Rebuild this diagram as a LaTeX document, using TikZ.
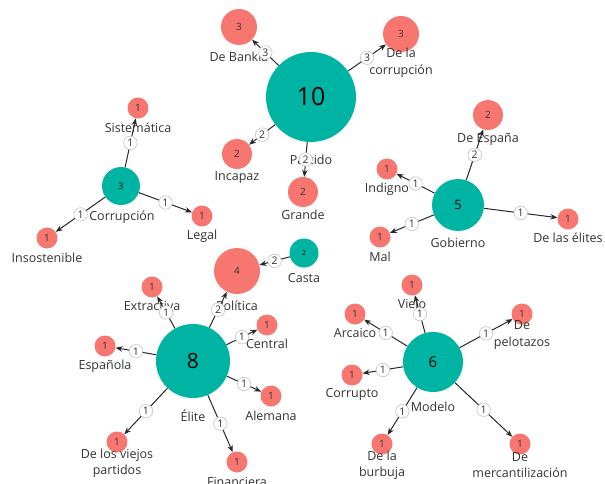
\documentclass[tikz,border=0pt]{standalone}
\usepackage{fontspec}
\setmainfont{Open Sans}
\usetikzlibrary{arrows.meta}

\definecolor{hubcol}{RGB}{0,180,164}
\definecolor{leafcol}{RGB}{248,118,112}
\definecolor{txtcol}{RGB}{51,51,51}
\definecolor{linecol}{RGB}{40,40,40}

\begin{document}
\begin{tikzpicture}[
    x=1pt, y=-1pt,
    hub/.style={circle, fill=hubcol, inner sep=0pt, text=black},
    leaf/.style={circle, fill=leafcol, inner sep=0pt, minimum size=21pt, text=txtcol, font=\fontsize{10}{12}\selectfont},
    lbl/.style={inner sep=0pt, align=center, text=txtcol, font=\fontsize{12.5}{16.5}\selectfont},
    wt/.style={circle, draw=gray!55, line width=0.5pt, fill=white, inner sep=0pt, minimum size=13.5pt, text=txtcol, font=\fontsize{10.5}{10.5}\selectfont},
    link/.style={draw=linecol, line width=1pt, -{Stealth[length=7pt,width=5.5pt]}}
]
\fill[white] (0,0) rectangle (605,484);
\useasboundingbox (0,0) rectangle (605,484);

% Hubs
\node[hub, minimum size=90pt, font=\fontsize{25}{25}\selectfont] (partido) at (311,97) {10};
\node[hub, minimum size=38pt, font=\fontsize{9}{9}\selectfont] (corrupcion) at (121,186) {3};
\node[hub, minimum size=52pt, font=\fontsize{13}{13}\selectfont] (gobierno) at (458,205) {5};
\node[hub, minimum size=29pt, font=\fontsize{7}{7}\selectfont] (casta) at (304,253) {2};
\node[hub, minimum size=74pt, font=\fontsize{21}{21}\selectfont] (elite) at (193,361) {8};
\node[hub, minimum size=60pt, font=\fontsize{15}{15}\selectfont] (modelo) at (433,362) {6};

% Leaves
\node[leaf, minimum size=36pt] (bankia) at (239,27) {3};
\node[leaf, minimum size=36pt] (delacorr) at (401,34) {3};
\node[leaf, minimum size=30pt] (incapaz) at (237,154) {2};
\node[leaf, minimum size=30pt] (grande) at (303,192) {2};
\node[leaf] (sistematica) at (138,108) {1};
\node[leaf] (legal) at (202,216) {1};
\node[leaf] (insostenible) at (47,238) {1};
\node[leaf, minimum size=30pt] (espana) at (488,115) {2};
\node[leaf] (indigno) at (387,169) {1};
\node[leaf] (mal) at (380,237) {1};
\node[leaf] (elites) at (568,219) {1};
\node[leaf, minimum size=46pt] (politica) at (237,271) {4};
\node[leaf] (extractiva) at (152,287) {1};
\node[leaf] (central) at (267,325) {1};
\node[leaf] (espanola) at (105,346) {1};
\node[leaf] (alemana) at (271,396) {1};
\node[leaf] (viejos) at (117,442) {1};
\node[leaf] (financiera) at (237,462) {1};
\node[leaf] (viejo) at (412,285) {1};
\node[leaf] (arcaico) at (355,314) {1};
\node[leaf] (pelotazos) at (522,314) {1};
\node[leaf] (corrupto) at (352,375) {1};
\node[leaf] (burbuja) at (382,444) {1};
\node[leaf] (mercant) at (520,444) {1};

% Labels
\node[lbl] (tpartido) at (311,160) {Partido};
\node[lbl] (tcorrupcion) at (122,217) {Corrupción};
\node[lbl] (tgobierno) at (458,243) {Gobierno};
\node[lbl] (tcasta) at (304,278) {Casta};
\node[lbl] (telite) at (193,416) {Élite};
\node[lbl] (tmodelo) at (433,407) {Modelo};
\node[lbl] (tbankia) at (239,57) {De Bankia};
\node[lbl] (tdelacorr) at (401,63) {De la\\corrupción};
\node[lbl] (tincapaz) at (237,178) {Incapaz};
\node[lbl] (tgrande) at (303,215) {Grande};
\node[lbl] (tsistematica) at (138,128) {Sistemática};
\node[lbl] (tlegal) at (202,236) {Legal};
\node[lbl] (tinsostenible) at (47,258) {Insostenible};
\node[lbl] (tespana) at (488,139) {De España};
\node[lbl] (tindigno) at (387,189) {Indigno};
\node[lbl] (tmal) at (380,257) {Mal};
\node[lbl] (telites) at (568,238) {De las élites};
\node[lbl] (tpolitica) at (237,306) {Política};
\node[lbl] (textractiva) at (152,306) {Extractiva};
\node[lbl] (tcentral) at (267,344) {Central};
\node[lbl] (tespanola) at (105,366) {Española};
\node[lbl] (talemana) at (271,416) {Alemana};
\node[lbl] (tviejos) at (117,463) {De los viejos\\partidos};
\node[lbl] (tfinanciera) at (237,482) {Financiera};
\node[lbl] (tviejo) at (412,305) {Viejo};
\node[lbl] (tarcaico) at (355,333) {Arcaico};
\node[lbl] (tpelotazos) at (522,335) {De\\pelotazos};
\node[lbl] (tcorrupto) at (352,394) {Corrupto};
\node[lbl] (tburbuja) at (382,465) {De la\\burbuja};
\node[lbl] (tmercant) at (520,465) {De\\mercantilización};

% Links
\draw[link] (partido) -- node[wt] {3} (bankia);
\draw[link] (partido) -- node[wt] {3} (delacorr);
\draw[link] (partido) -- node[wt] {2} (incapaz);
\draw[link] (partido) -- node[wt] {2} (grande);
\draw[link] (corrupcion) -- node[wt] {1} (sistematica);
\draw[link] (corrupcion) -- node[wt] {1} (legal);
\draw[link] (corrupcion) -- node[wt] {1} (insostenible);
\draw[link] (gobierno) -- node[wt] {2} (espana);
\draw[link] (gobierno) -- node[wt] {1} (indigno);
\draw[link] (gobierno) -- node[wt] {1} (mal);
\draw[link] (gobierno) -- node[wt] {1} (elites);
\draw[link] (casta) -- node[wt] {2} (politica);
\draw[link] (elite) -- node[wt] {2} (politica);
\draw[link] (elite) -- node[wt] {1} (extractiva);
\draw[link] (elite) -- node[wt] {1} (central);
\draw[link] (elite) -- node[wt] {1} (espanola);
\draw[link] (elite) -- node[wt] {1} (alemana);
\draw[link] (elite) -- node[wt] {1} (viejos);
\draw[link] (elite) -- node[wt] {1} (financiera);
\draw[link] (modelo) -- node[wt] {1} (viejo);
\draw[link] (modelo) -- node[wt] {1} (arcaico);
\draw[link] (modelo) -- node[wt] {1} (pelotazos);
\draw[link] (modelo) -- node[wt] {1} (corrupto);
\draw[link] (modelo) -- node[wt] {1} (burbuja);
\draw[link] (modelo) -- node[wt] {1} (mercant);

\end{tikzpicture}
\end{document}
